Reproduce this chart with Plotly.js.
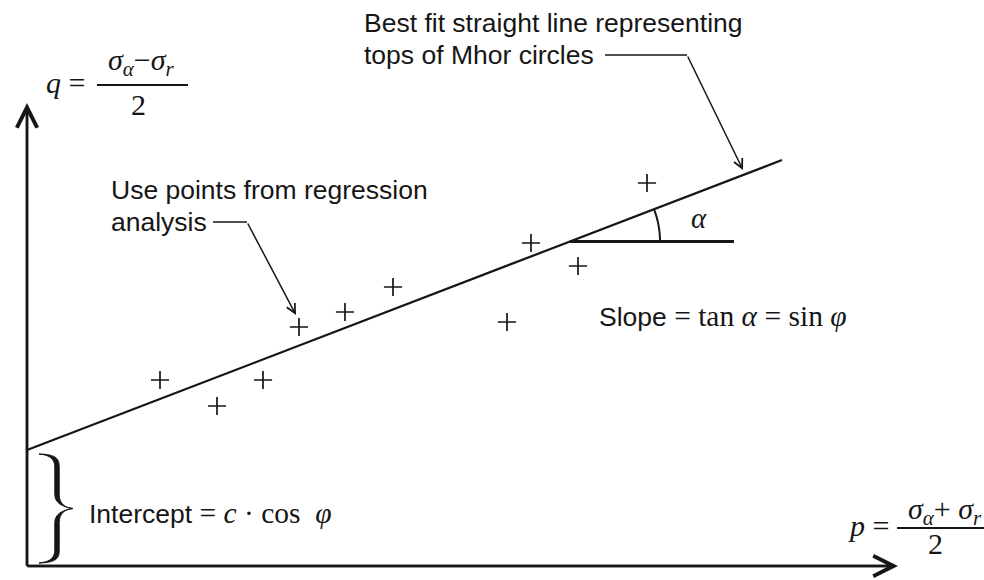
<!DOCTYPE html>
<html>
<head>
<meta charset="utf-8">
<script src="https://cdn.plot.ly/plotly-3.0.1.min.js"></script>
<style>
  html, body { margin: 0; padding: 0; background: #ffffff; }
  #chart { width: 984px; height: 580px; }
</style>
</head>
<body>
<div id="chart"></div>
<script>
// Stress points (p, q) taken from the regression analysis
const pointsP = [13.3, 19.0, 23.6, 27.2, 31.8, 36.6, 48.0, 50.4, 55.1, 62.0];
const pointsQ = [18.6, 16.0, 18.6, 23.9, 25.4, 27.9, 24.4, 32.3, 30.0, 38.3];

// Best-fit line through the tops of the Mohr circles: q = intercept + slope * p
const fitIntercept = 11.6;
const fitSlope = 0.384;
const fitRangeP = [0, 75.5];

// Where the slope angle alpha is marked on the line
const angleStartP = 54.3;
const angleEndP = 70.7;
const angleRadius = 9.0;

// Axis arrow tips
const axisTipP = 87.1;
const axisTipQ = 46.3;

const INK = '#161616';
const SANS = 'Liberation Sans, Arial, Helvetica, sans-serif';
const SERIF = 'Liberation Serif, Times New Roman, serif';
const MATH_SIZE = 29.5;

const fitQ = p => fitIntercept + fitSlope * p;
const fitLineQ = fitRangeP.map(fitQ);
const angleQ = fitQ(angleStartP);
const alpha = Math.atan(fitSlope);

// Arc marking alpha between the horizontal and the fit line
const arcSteps = 24;
let arcPath = '';
for (let i = 0; i <= arcSteps; i++) {
  const t = alpha * i / arcSteps;
  const px = angleStartP + angleRadius * Math.cos(t);
  const py = angleQ + angleRadius * Math.sin(t);
  arcPath += (i === 0 ? 'M ' : ' L ') + px.toFixed(3) + ',' + py.toFixed(3);
}

// Curly brace spanning the intercept on the q axis (filled, thick in the arms)
const bTop = fitIntercept - 0.4, bBot = 0.3, bMid = (bTop + bBot) / 2;
const braceX0 = 1.2, braceX1 = 3.0, braceTip = 4.6, w = 0.22;
function braceHalf(end, dir) {
  // dir = -1 for the upper arm (going down from the top), +1 for the lower arm
  const a = end, s = -dir;
  return `M ${braceX0},${a}` +
    ` C ${braceX1},${a + s * -0.05} ${braceX1 + w},${a - s * 0.5} ${braceX1 + w},${a - s * 1.3}` +
    ` L ${braceX1 + w},${bMid + s * 1.4}` +
    ` C ${braceX1 + w},${bMid + s * 0.5} ${braceX1 + 0.8},${bMid + s * 0.05} ${braceTip},${bMid}` +
    ` C ${braceX1 + 0.5},${bMid + s * 0.15} ${braceX1 - w},${bMid + s * 0.6} ${braceX1 - w},${bMid + s * 1.4}` +
    ` L ${braceX1 - w},${a - s * 1.3}` +
    ` C ${braceX1 - w},${a - s * 0.6} ${braceX1 - 0.6},${a - s * 0.1} ${braceX0},${a} Z`;
}
const braceUpper = braceHalf(bTop, -1);
const braceLower = braceHalf(bBot, 1);

const traces = [
  {
    x: fitRangeP, y: fitLineQ, type: 'scatter', mode: 'lines',
    line: { color: INK, width: 2.2 }, hoverinfo: 'skip'
  },
  {
    x: [angleStartP, angleEndP], y: [angleQ, angleQ], type: 'scatter', mode: 'lines',
    line: { color: INK, width: 3 }, hoverinfo: 'skip'
  },
  {
    x: pointsP, y: pointsQ, type: 'scatter', mode: 'markers',
    marker: { symbol: 'cross-thin', size: 13, color: INK, line: { color: INK, width: 1.7 } }
  }
];

function label(text, x, y, opts) {
  return Object.assign({
    text: text, x: x, y: y, xref: 'x', yref: 'y', showarrow: false,
    xanchor: 'left', yanchor: 'middle',
    font: { family: SANS, size: 26.5, color: INK }
  }, opts || {});
}

function arrow(x, y, ax, ay, head, size, width) {
  return {
    text: '', x: x, y: y, ax: ax, ay: ay, xref: 'x', yref: 'y', axref: 'x', ayref: 'y',
    showarrow: true, arrowhead: head, arrowsize: size, arrowwidth: width, arrowcolor: INK, standoff: 0
  };
}

const mathFont = size => ({ family: SERIF, size: size, color: INK });
const mathSpan = t => `<span style="font-family:${SERIF};font-size:${MATH_SIZE}px">${t}</span>`;

const annotations = [
  // axes
  arrow(axisTipP, 0, 0, 0, 5, 1.6, 2.5),
  arrow(0, axisTipQ, 0, 0, 5, 1.6, 2.5),

  // callout: best-fit line
  label('Best fit straight line representing', 33.5, 54.3),
  label('tops of Mhor circles', 33.5, 51.1),
  arrow(71.6, 39.6, 66.0, 51.1, 5, 1.2, 1.5),

  // callout: regression points
  label('Use points from regression', 8.2, 37.6),
  label('analysis', 8.2, 34.4),
  arrow(26.9, 25.1, 22.0, 34.4, 5, 1.2, 1.5),

  // slope and intercept notes
  label('Slope ' + mathSpan('= tan <i>α</i> = sin <i>φ</i>'), 57.0, 25.0),
  label('Intercept ' + mathSpan('= <i>c</i> · cos  <i>φ</i>'), 6.0, 5.3),
  label('<i>α</i>', 67.2, 34.8, { xanchor: 'center', font: mathFont(29) }),

  // q axis title: q = (σα − σr) / 2
  label('<i>q</i> =', 3.8, 48.4, { xanchor: 'center', font: mathFont(30) }),
  label('<i>σ<sub>α</sub></i>−<i>σ<sub>r</sub></i>', 11.4, 50.4, { xanchor: 'center', font: mathFont(30) }),
  label('2', 11.1, 46.2, { xanchor: 'center', font: mathFont(30) }),

  // p axis title: p = (σα + σr) / 2
  label('<i>p</i> =', 84.1, 4.1, { xanchor: 'center', font: mathFont(30) }),
  label('<i>σ<sub>α</sub></i>+ <i>σ<sub>r</sub></i>', 91.8, 5.5, { xanchor: 'center', font: mathFont(30) }),
  label('2', 90.8, 2.3, { xanchor: 'center', font: mathFont(30) })
];

const shapes = [
  // axis lines
  { type: 'line', xref: 'x', yref: 'y', x0: 0, y0: 0, x1: axisTipP - 1, y1: 0, line: { color: INK, width: 2.5 } },
  { type: 'line', xref: 'x', yref: 'y', x0: 0, y0: 0, x1: 0, y1: axisTipQ - 1, line: { color: INK, width: 2.5 } },
  // leader segments
  { type: 'line', xref: 'x', yref: 'y', x0: 57.8, y0: 51.1, x1: 66.0, y1: 51.1, line: { color: INK, width: 1.5 } },
  { type: 'line', xref: 'x', yref: 'y', x0: 18.6, y0: 34.4, x1: 22.0, y1: 34.4, line: { color: INK, width: 1.5 } },
  // fraction bars
  { type: 'line', xref: 'x', yref: 'y', x0: 7.0, y0: 48.1, x1: 16.1, y1: 48.1, line: { color: INK, width: 2 } },
  { type: 'line', xref: 'x', yref: 'y', x0: 87.0, y0: 3.8, x1: 96.0, y1: 3.8, line: { color: INK, width: 2 } },
  // angle arc
  { type: 'path', xref: 'x', yref: 'y', path: arcPath, line: { color: INK, width: 2 } },
  // brace
  { type: 'path', xref: 'x', yref: 'y', path: braceUpper, fillcolor: INK, line: { color: INK, width: 1 } },
  { type: 'path', xref: 'x', yref: 'y', path: braceLower, fillcolor: INK, line: { color: INK, width: 1 } }
];

const layout = {
  width: 984, height: 580,
  margin: { l: 0, r: 0, t: 0, b: 0 },
  paper_bgcolor: '#ffffff', plot_bgcolor: '#ffffff',
  showlegend: false,
  xaxis: { range: [-2.7, 95.7], visible: false, fixedrange: true },
  yaxis: { range: [-1.4, 56.6], visible: false, fixedrange: true },
  annotations: annotations,
  shapes: shapes
};

Plotly.newPlot('chart', traces, layout, { staticPlot: true, displayModeBar: false });
</script>
</body>
</html>
